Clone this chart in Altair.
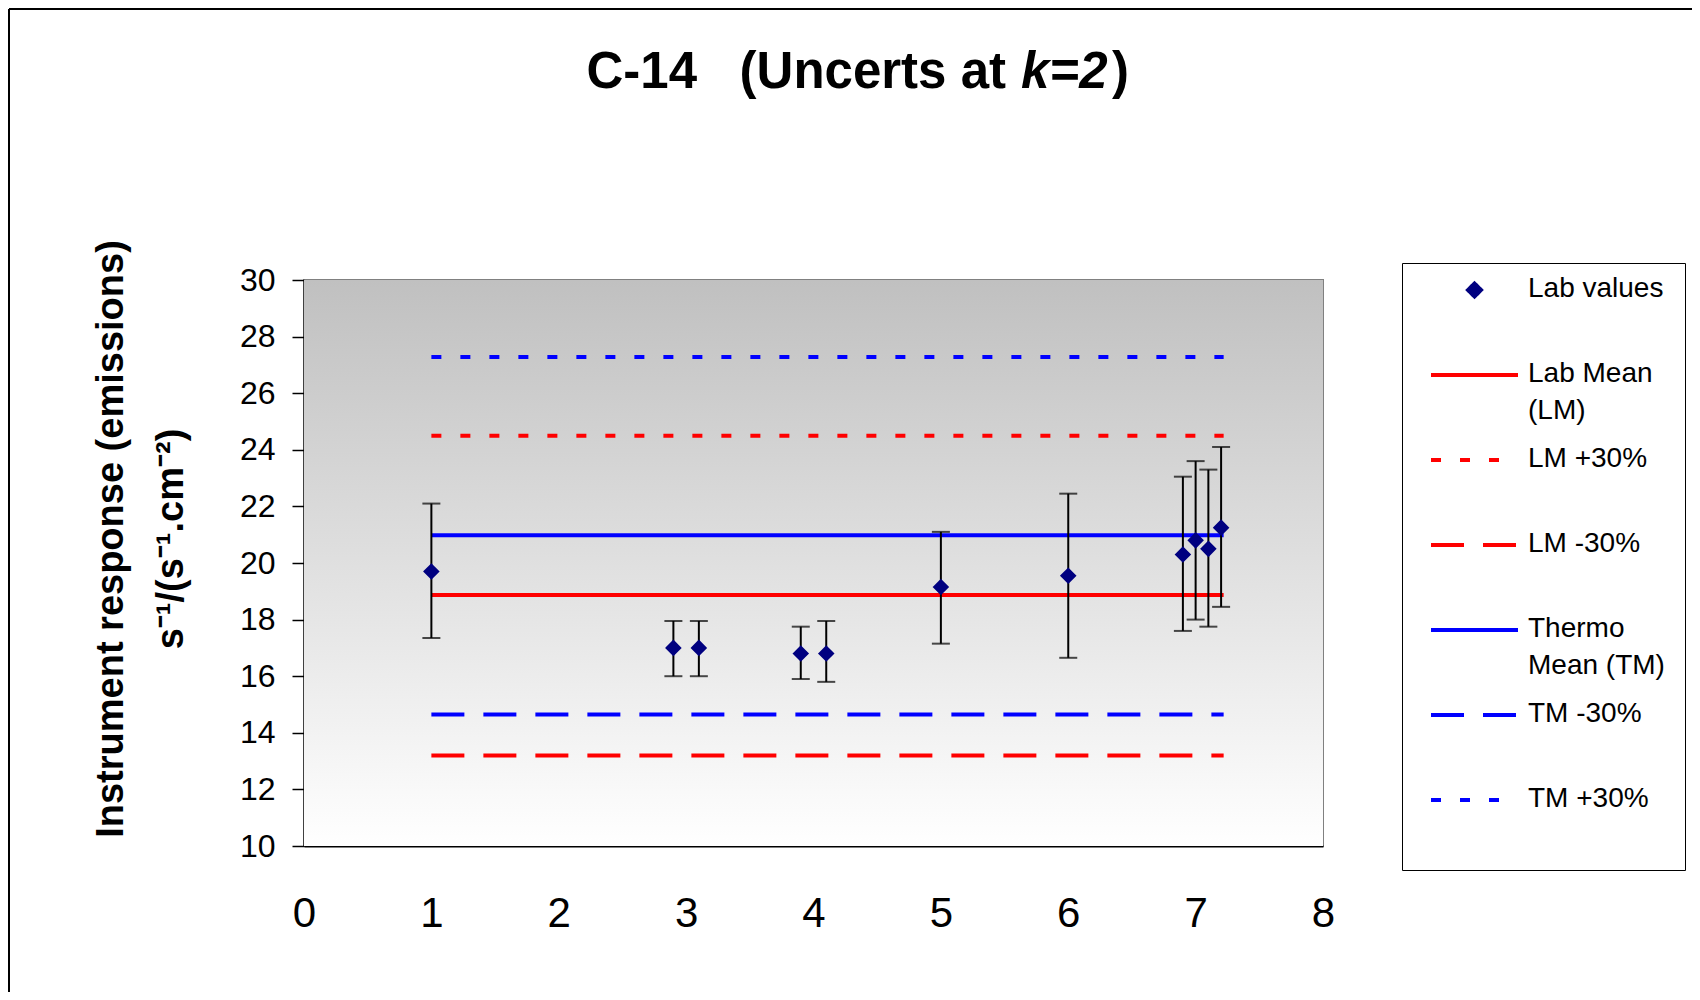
import altair as alt
import pandas as pd

# ---------------- data ----------------
series_order = ["Lab values", "Lab Mean (LM)", "LM +30%", "LM -30%",
                "Thermo Mean (TM)", "TM -30%", "TM +30%"]
series_colors = ["#000080", "#ff0000", "#ff0000", "#ff0000",
                 "#0000ff", "#0000ff", "#0000ff"]
series_dash = [[1, 0], [1, 0], [10, 19], [33, 19], [1, 0], [33, 19], [10, 19]]
# legend symbols: a small diamond and long line strokes (unit-square paths)
DIAMOND = "M-0.65,-0.7L0,-1.35L0.65,-0.7L0,-0.05Z"
STROKE = "M-4.35,-0.7L4.35,-0.7"
series_shape = [DIAMOND, STROKE, STROKE, STROKE, STROKE, STROKE, STROKE]

lab_x = [1.0, 2.9, 3.1, 3.9, 4.1, 5.0, 6.0, 6.9, 7.0, 7.1, 7.2]
lab_y = [19.7, 17.0, 17.0, 16.8, 16.8, 19.15, 19.55, 20.3, 20.8, 20.5, 21.25]
lab_lo = [17.35, 16.0, 16.0, 15.9, 15.8, 17.15, 16.65, 17.6, 18.0, 17.75, 18.45]
lab_hi = [22.1, 17.95, 17.95, 17.75, 17.95, 21.1, 22.45, 23.05, 23.6, 23.3, 24.1]

ref_names = ["Lab Mean (LM)", "LM +30%", "LM -30%",
             "Thermo Mean (TM)", "TM -30%", "TM +30%"]
ref_levels = [18.87, 24.5, 13.2, 20.98, 14.65, 27.28]
ref_x_range = [1.0, 7.22]

x_ticks = [0, 1, 2, 3, 4, 5, 6, 7, 8]
y_ticks = [10, 12, 14, 16, 18, 20, 22, 24, 26, 28, 30]

title_main = "C-14\u00a0\u00a0\u00a0(Uncerts at"
title_k = "k=2"
title_close = ")"
ytitle_1 = "Instrument response (emissions)"
ytitle_2 = "s\u207b\u00b9/(s\u207b\u00b9.cm\u207b\u00b2)"

# ---------------- layout ----------------
W, H = 1019, 566
FONT = "Liberation Sans"

lab_df = pd.DataFrame({"x": lab_x, "y": lab_y, "lo": lab_lo, "hi": lab_hi,
                       "series": ["Lab values"] * len(lab_x)})
ref_rows = []
for n, lv in zip(ref_names, ref_levels):
    for xv in ref_x_range:
        ref_rows.append({"x": xv, "y": lv, "series": n})
ref_df = pd.DataFrame(ref_rows)
bg_df = pd.DataFrame({"x": [x_ticks[0]], "x2": [x_ticks[-1]],
                      "y": [y_ticks[0]], "y2": [y_ticks[-1]]})
empty_df = pd.DataFrame({"x": pd.Series([], dtype=float),
                         "y": pd.Series([], dtype=float),
                         "series": pd.Series([], dtype=str)})
one = pd.DataFrame({"a": [0]})

xscale = alt.Scale(domain=[0, 8], nice=False, zero=False)
yscale = alt.Scale(domain=[10, 30], nice=False, zero=False)

xaxis = alt.Axis(values=x_ticks, ticks=False, labelFontSize=42, labelPadding=47,
                 labelFlush=False, domainColor="black", domainWidth=2, grid=False,
                 title=None, labelFont=FONT, labelColor="black", format="d")
yaxis = alt.Axis(values=y_ticks, tickSize=12, tickColor="black", tickWidth=1.5,
                 labelFontSize=32, labelPadding=17, domainColor="black",
                 domainWidth=2, grid=False, title=None, labelFont=FONT,
                 labelColor="black", format="d")

X = alt.X("x:Q", scale=xscale, axis=xaxis)
Y = alt.Y("y:Q", scale=yscale, axis=yaxis)

label_expr = ("datum.label == 'Lab Mean (LM)' ? ['Lab Mean', '(LM)'] : "
              "datum.label == 'Thermo Mean (TM)' ? ['Thermo', 'Mean (TM)'] : "
              "datum.label == 'TM +30%' ? ['TM +30%', ''] : datum.label")


def make_legend():
    return alt.Legend(title=None, orient="none", legendX=1098, legendY=-17,
                      labelExpr=label_expr)


color = alt.Color("series:N", scale=alt.Scale(domain=series_order, range=series_colors),
                  legend=make_legend())
dash = alt.StrokeDash("series:N", scale=alt.Scale(domain=series_order, range=series_dash),
                      legend=make_legend())
shape = alt.Shape("series:N", scale=alt.Scale(domain=series_order, range=series_shape),
                  legend=make_legend())

grad = alt.LinearGradient(gradient="linear",
                          stops=[alt.GradientStop(color="#c0c0c0", offset=0),
                                 alt.GradientStop(color="#ffffff", offset=1)],
                          x1=0, x2=0, y1=0, y2=1)

background = alt.Chart(bg_df).mark_rect(color=grad).encode(x=X, x2="x2:Q", y=Y, y2="y2:Q")

lines = alt.Chart(ref_df).mark_line(strokeWidth=4, strokeCap="butt").encode(
    x=X, y=Y, color=color, strokeDash=dash)

err_rule = alt.Chart(lab_df).mark_rule(color="black", strokeWidth=2).encode(
    x=X, y=alt.Y("lo:Q", scale=yscale, axis=yaxis), y2="hi:Q")
err_lo = alt.Chart(lab_df).mark_tick(orient="horizontal", size=18, thickness=2,
                                     color="black").encode(
    x=X, y=alt.Y("lo:Q", scale=yscale, axis=yaxis))
err_hi = alt.Chart(lab_df).mark_tick(orient="horizontal", size=18, thickness=2,
                                     color="black").encode(
    x=X, y=alt.Y("hi:Q", scale=yscale, axis=yaxis))

points = alt.Chart(lab_df).mark_point(shape="diamond", filled=True, size=170,
                                      stroke="#000080", strokeWidth=2.5,
                                      opacity=1).encode(x=X, y=Y, color=color)

# empty layer that only carries the legend symbol shapes
legend_shapes = alt.Chart(empty_df).mark_point(filled=True, opacity=1).encode(
    x=X, y=Y, color=color, shape=shape)

t1 = alt.Chart(one).mark_text(text=title_main, align="right", baseline="alphabetic",
                              font=FONT, fontSize=51, fontWeight="bold",
                              color="black").encode(x=alt.value(702), y=alt.value(-192))
t2 = alt.Chart(one).mark_text(text=title_k, align="left", baseline="alphabetic",
                              font=FONT, fontSize=51, fontWeight="bold",
                              fontStyle="italic", color="black").encode(
    x=alt.value(717), y=alt.value(-192))
t3 = alt.Chart(one).mark_text(text=title_close, align="left", baseline="alphabetic",
                              font=FONT, fontSize=51, fontWeight="bold",
                              color="black").encode(x=alt.value(808), y=alt.value(-192))

yt1 = alt.Chart(one).mark_text(text=ytitle_1, angle=270, align="center",
                               baseline="alphabetic", font=FONT, fontSize=38,
                               fontWeight="bold", color="black").encode(
    x=alt.value(-181), y=alt.value(259))
yt2 = alt.Chart(one).mark_text(text=ytitle_2, angle=270, align="center",
                               baseline="alphabetic", font=FONT, fontSize=38,
                               fontWeight="bold", color="black").encode(
    x=alt.value(-121), y=alt.value(259))

frame_top = alt.Chart(one).mark_rule(color="black", strokeWidth=2).encode(
    x=alt.value(-295), x2=alt.value(1388), y=alt.value(-271))
frame_left = alt.Chart(one).mark_rule(color="black", strokeWidth=2).encode(
    x=alt.value(-295), y=alt.value(-271), y2=alt.value(712))

chart = alt.layer(
    background, lines, err_rule, err_lo, err_hi, points, legend_shapes,
    t1, t2, t3, yt1, yt2, frame_top, frame_left
).properties(
    width=W, height=H,
    autosize=alt.AutoSizeParams(type="none"),
    padding={"left": 296, "top": 272, "right": 369, "bottom": 146},
    background="white",
).configure(
    style={"guide-label": {"lineHeight": 37}}
).configure_view(
    stroke="#808080", strokeWidth=2
).configure_legend(
    labelFont=FONT, labelFontSize=28, labelColor="black", labelLimit=0,
    labelOffset=39.5, labelBaseline="alphabetic", symbolOffset=38.5,
    symbolSize=400, symbolStrokeWidth=4, padding=20,
    strokeColor="black", fillColor="white",
    rowPadding=20, gridAlign="all"
)

chart.save("out.html", embed_options={"renderer": "svg", "actions": False})
